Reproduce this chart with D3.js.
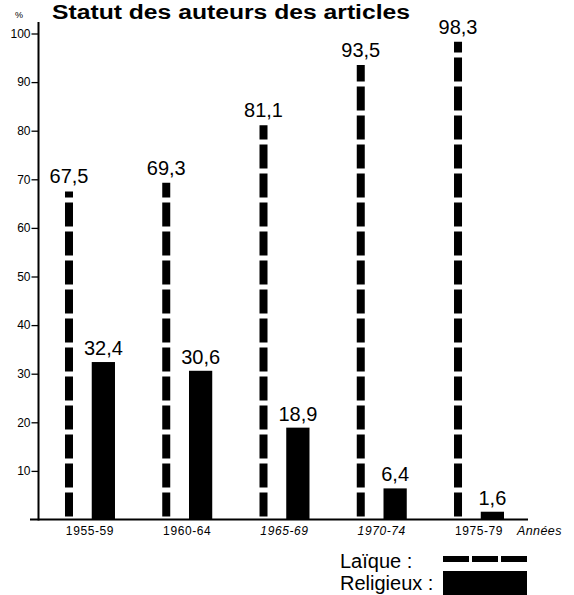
<!DOCTYPE html>
<html>
<head>
<meta charset="utf-8">
<script src="https://cdn.jsdelivr.net/npm/d3@7"></script>
<style>
  html, body { margin: 0; padding: 0; background: #fff; }
  svg { display: block; }
  text { font-family: "Liberation Sans", Arial, Helvetica, sans-serif; fill: #000; }
</style>
</head>
<body>
<svg id="chart" width="574" height="595"></svg>
<script>
// ---- data ----
const categories = ["1955-59", "1960-64", "1965-69", "1970-74", "1975-79"];
const laique = [67.5, 69.3, 81.1, 93.5, 98.3];
const religieux = [32.4, 30.6, 18.9, 6.4, 1.6];
const valueLabelsLaique = ["67,5", "69,3", "81,1", "93,5", "98,3"];
const valueLabelsReligieux = ["32,4", "30,6", "18,9", "6,4", "1,6"];
const yTicks = [10, 20, 30, 40, 50, 60, 70, 80, 90, 100];
const italicCats = ["1965-69", "1970-74"];
const title = "Statut des auteurs des articles";
const legendLabels = ["Laïque :", "Religieux :"];

const svg = d3.select("#chart");

const y = d3.scaleLinear().domain([0, 100]).range([519.5, 33.5]);
const x = d3.scaleBand().domain(categories).range([40, 529]).paddingInner(0.486).paddingOuter(0.257);
const bw = x.bandwidth();
const dashW = 8;
const solidX0 = bw * 0.535;
const solidW = bw - solidX0;

// title
svg.append("text").attr("x", 52).attr("y", 19)
  .attr("font-size", 20).attr("font-weight", "bold")
  .attr("textLength", 358).attr("lengthAdjust", "spacingAndGlyphs")
  .text(title);
svg.append("text").attr("x", 15).attr("y", 18).attr("font-size", 9).text("%");

// y axis
const yAxis = d3.axisLeft(y).tickValues(yTicks).tickSize(7).tickPadding(1);
const gy = svg.append("g").attr("transform", "translate(38.5,0)").call(yAxis);
gy.select(".domain").remove();
gy.selectAll(".tick line").attr("stroke", "#000").attr("stroke-width", 1.3);
gy.selectAll(".tick text").attr("font-size", 12).attr("font-family", "Liberation Sans, Arial, sans-serif").attr("fill", "#000");

svg.append("line").attr("x1", 38.5).attr("x2", 38.5).attr("y1", 22).attr("y2", y(0) + 1)
  .attr("stroke", "#000").attr("stroke-width", 2);
svg.append("line").attr("x1", 30).attr("x2", 528).attr("y1", y(0)).attr("y2", y(0))
  .attr("stroke", "#000").attr("stroke-width", 2);

// bars
const groups = svg.append("g").selectAll("g").data(categories).join("g")
  .attr("transform", d => `translate(${x(d)},0)`);

groups.append("line")
  .attr("x1", dashW / 2).attr("x2", dashW / 2)
  .attr("y1", y(0) - 3).attr("y2", (d, i) => y(laique[i]))
  .attr("stroke", "#000").attr("stroke-width", dashW)
  .attr("stroke-dasharray", "24 5");

groups.append("rect")
  .attr("x", solidX0).attr("width", solidW)
  .attr("y", (d, i) => y(religieux[i]))
  .attr("height", (d, i) => y(0) - y(religieux[i]))
  .attr("fill", "#000");

groups.append("text")
  .attr("x", dashW / 2).attr("y", (d, i) => y(laique[i]) - 8)
  .attr("text-anchor", "middle").attr("font-size", 20)
  .text((d, i) => valueLabelsLaique[i]);

groups.append("text")
  .attr("x", solidX0 + solidW / 2).attr("y", (d, i) => y(religieux[i]) - 7)
  .attr("text-anchor", "middle").attr("font-size", 20)
  .text((d, i) => valueLabelsReligieux[i]);

// category labels
groups.append("text")
  .attr("x", bw / 2).attr("y", 535)
  .attr("text-anchor", "middle").attr("font-size", 12)
  .attr("letter-spacing", 0.6)
  .attr("font-style", d => italicCats.includes(d) ? "italic" : "normal")
  .text(d => d);

svg.append("text").attr("x", 517).attr("y", 535).attr("font-size", 12.5)
  .attr("font-style", "italic").attr("letter-spacing", 0.4).text("Années");

// legend
svg.append("text").attr("x", 340).attr("y", 568).attr("font-size", 20).text(legendLabels[0]);
svg.append("text").attr("x", 340).attr("y", 590).attr("font-size", 20).text(legendLabels[1]);
svg.append("line").attr("x1", 443).attr("x2", 527).attr("y1", 559).attr("y2", 559)
  .attr("stroke", "#000").attr("stroke-width", 6).attr("stroke-dasharray", "26 3");
svg.append("rect").attr("x", 443).attr("y", 571).attr("width", 84).attr("height", 24).attr("fill", "#000");
</script>
</body>
</html>
